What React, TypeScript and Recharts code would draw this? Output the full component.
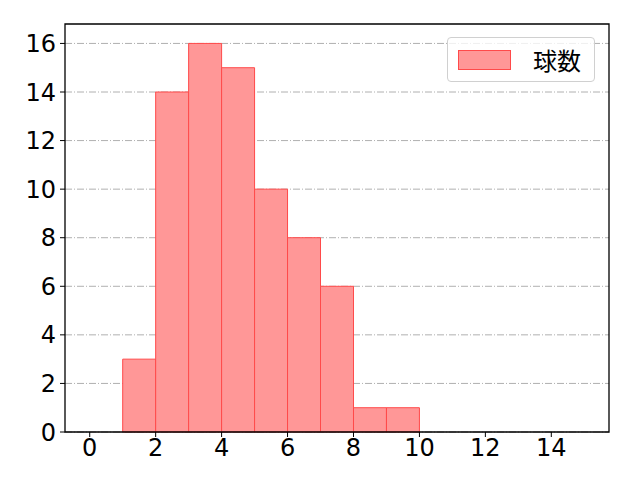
import {
  ComposedChart, XAxis, YAxis, CartesianGrid, ReferenceArea, Scatter,
} from 'recharts';

// histogram bins (left edge, right edge) and counts
const binStarts = [1, 2, 3, 4, 5, 6, 7, 8, 9];
const binEnds = [2, 3, 4, 5, 6, 7, 8, 9, 10];
const counts = [3, 14, 16, 15, 10, 8, 6, 1, 1];
const xTicks = [0, 2, 4, 6, 8, 10, 12, 14];
const yTicks = [0, 2, 4, 6, 8, 10, 12, 14, 16];
const xDomain = [-0.75, 15.75];
const yDomain = [0, 16.8];
const seriesName = '球数';

const TICK_FONT = '"DejaVu Sans", sans-serif';
const CJK_FONT = '"Noto Sans CJK JP", sans-serif';
const BAR_FILL = '#ff9797';
const BAR_EDGE = '#ff4a4a';

function LegendBox() {
  return (
    <div style={{
      position: 'absolute', left: 447, top: 37, width: 148, height: 45,
      border: '1px solid #d0d0d0', borderRadius: 4, background: 'rgba(255,255,255,0.8)',
      display: 'flex', alignItems: 'center', boxSizing: 'border-box',
    }}>
      <div style={{ marginLeft: 10, width: 53, height: 20, background: BAR_FILL, border: `1px solid ${BAR_EDGE}`, boxSizing: 'border-box' }} />
      <span style={{ marginLeft: 22, fontSize: 24, fontFamily: CJK_FONT, color: '#000', lineHeight: 1 }}>{seriesName}</span>
    </div>
  );
}

export default function App() {
  const tick = { fill: '#000', fontSize: 24, fontFamily: TICK_FONT };
  return (
    <div style={{ position: 'absolute', left: 0, top: 0, width: 640, height: 480, background: '#fff' }}>
      <ComposedChart width={640} height={480} margin={{ top: 24, right: 31, left: 0, bottom: 0 }} data={[]}>
        <CartesianGrid vertical={false} stroke="#b0b0b0" strokeDasharray="7 2 1 2" horizontalValues={yTicks} />
        <XAxis
          type="number" dataKey="x" domain={xDomain} ticks={xTicks}
          allowDataOverflow height={48} tick={tick} tickSize={5} tickMargin={2}
          axisLine={false} tickLine={{ stroke: '#000' }}
        />
        <YAxis
          type="number" domain={yDomain} ticks={yTicks} allowDataOverflow
          width={65} tick={tick} tickSize={5} tickMargin={4}
          axisLine={false} tickLine={{ stroke: '#000' }}
        />
        <Scatter data={[]} dataKey="y" isAnimationActive={false} />
        {counts.map((c, i) => (
          <ReferenceArea
            key={i}
            x1={binStarts[i]} x2={binEnds[i]} y1={0} y2={c}
            fill={BAR_FILL} fillOpacity={1} stroke={BAR_EDGE} strokeWidth={1}
            ifOverflow="visible"
          />
        ))}
        {/* axes frame */}
        <ReferenceArea
          x1={xDomain[0]} x2={xDomain[1]} y1={yDomain[0]} y2={yDomain[1]}
          fill="none" fillOpacity={0} stroke="#000" strokeWidth={1.3} ifOverflow="visible"
        />
      </ComposedChart>
      <LegendBox />
    </div>
  );
}
